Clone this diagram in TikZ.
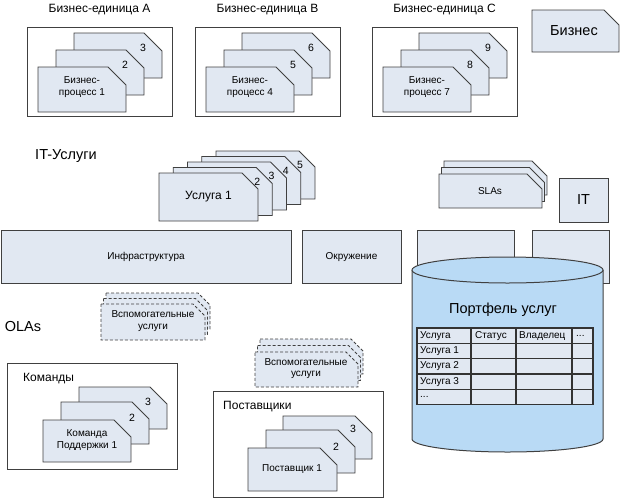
\documentclass[tikz,border=0pt]{standalone}
\usepackage{fontspec}
\setmainfont{Liberation Sans}
\definecolor{pagefill}{RGB}{225,232,242}
\definecolor{cylfill}{RGB}{185,218,245}
\definecolor{linec}{RGB}{64,64,64}
\tikzset{
  pg/.style={draw=linec, fill=pagefill, line width=0.9pt, line join=miter},
  dpg/.style={pg, dash pattern=on 3pt off 2pt},
  frame/.style={draw=linec, line width=1pt},
  cyl/.style={draw=linec, fill=cylfill, line width=1pt},
  tbl/.style={draw=linec!80!black, line width=1.3pt},
  sm/.style={font=\fontsize{10}{11.5}\selectfont, align=center, inner sep=0pt},
  num/.style={font=\fontsize{10.5}{12}\selectfont, inner sep=0pt},
  md/.style={font=\fontsize{12}{14}\selectfont, inner sep=0pt},
  lg/.style={font=\fontsize{14.5}{16}\selectfont, inner sep=0pt},
  cell/.style={font=\fontsize{10}{11}\selectfont, inner sep=0pt, anchor=west}
}
% [style] x y w h cut
\newcommand{\cutpg}[6][]{\draw[pg,#1] ({#2},{#3}) -- ({#2+#4-#6},{#3}) -- ({#2+#4},{#3+#6}) -- ({#2+#4},{#3+#5}) -- ({#2},{#3+#5}) -- cycle;}
% dx, letter, n1, n2, n3
\newcommand{\bizgroup}[5]{%
  \draw[frame] ({27+#1},27) rectangle ({172+#1},116);
  \node[md] (bu#2) at ({99.5+#1},10) {Бизнес-единица #2};
  \cutpg{74+#1}{33}{88}{45}{18}
  \node[num] (bn#5) at ({143+#1},48) {#5};
  \cutpg{56+#1}{50}{88}{45}{18}
  \node[num] (bn#4) at ({125+#1},65) {#4};
  \cutpg{38+#1}{67}{88}{45}{18}
  \node[sm] (bp#3) at ({82+#1},87) {Бизнес-\\процесс #3};
}
\begin{document}
\begin{tikzpicture}[x=1pt,y=-1pt]
\useasboundingbox (0,0) rectangle (620,498);

% ---- business units
\bizgroup{0}{A}{1}{2}{3}
\bizgroup{168}{B}{4}{5}{6}
\bizgroup{345}{C}{7}{8}{9}

% Бизнес tag
\cutpg{532}{10}{87}{42}{15}
\node[lg] (biz) at (574,31) {Бизнес};

% ---- IT services
\node[lg] (itlabel) at (66,156) {IT-Услуги};
\foreach \k in {5,4,3,2,1}{
  \cutpg{159+14.25*(\k-1)}{173-5.5*(\k-1)}{99}{48}{16}
  \ifnum\k>1
    \node[num] (un\k) at ({159+14.25*(\k-1)+84},{173-5.5*(\k-1)+14}) {\k};
  \fi
}
\node[md] (usl1) at (208.5,197) {Услуга 1};

% SLAs
\cutpg{444}{161}{103}{34}{15}
\cutpg{441.5}{167.5}{103}{34}{15}
\cutpg{439}{174}{103}{34}{15}
\node[sm] (slas) at (490,191) {SLAs};

% IT box
\draw[pg] (559,178) rectangle (608,222);
\node[lg] (it) at (583.5,200) {IT};

% ---- infrastructure row
\draw[pg] (1,230) rectangle (291,283);
\node[sm] (infra) at (146,257) {Инфраструктура};
\draw[pg] (302,230) rectangle (401,283);
\node[sm] (env) at (351.5,257) {Окружение};
\draw[pg] (417,230) rectangle (514,283);
\draw[pg] (532,230) rectangle (609,283);

% ---- cylinder
\draw[cyl] (412,270) -- (412,439) .. controls (412,446.2) and (454.8,452) .. (507.5,452) .. controls (560.2,452) and (603,446.2) .. (603,439) -- (603,270);
\draw[cyl] (507.5,270) ellipse [x radius=95.5, y radius=13];
\node[lg] (portf) at (503,310) {Портфель услуг};

% table
\fill[pagefill] (417,328) rectangle (593,404.6);
\draw[tbl] (417,328) rectangle (593,404.6);
\foreach \yy in {343.3,358.6,374,389.3}{\draw[tbl] (417,\yy) -- (593,\yy);}
\foreach \xx in {471,516,572}{\draw[tbl] (\xx,328) -- (\xx,404.6);}
\node[cell] (h1) at (420,335.6) {Услуга};
\node[cell] (h2) at (475,335.6) {Статус};
\node[cell] (h3) at (519,335.6) {Владелец};
\node[cell] (h4) at (576,335.6) {...};
\node[cell] (r1) at (420,351) {Услуга 1};
\node[cell] (r2) at (420,366.3) {Услуга 2};
\node[cell] (r3) at (420,381.6) {Услуга 3};
\node[cell] (r4) at (420,397) {...};

% ---- OLAs
\node[lg] (olas) at (23,327) {OLAs};
\cutpg[dpg]{106}{293}{104}{36}{12}
\cutpg[dpg]{103.5}{298.5}{104}{36}{12}
\cutpg[dpg]{101}{304}{104}{36}{12}
\node[sm] (aux1) at (153,321) {Вспомогательные\\услуги};

\cutpg[dpg]{260}{339}{103}{35}{12}
\cutpg[dpg]{257.5}{345.5}{103}{35}{12}
\cutpg[dpg]{255}{352}{103}{35}{12}
\node[sm] (aux2) at (306,368.5) {Вспомогательные\\услуги};

% Команды
\draw[frame] (7,363) rectangle (177,469);
\node[md, anchor=west] (teams) at (23,379) {Команды};
\cutpg{79}{387}{88}{42}{17}
\node[num] (tn3) at (148,402) {3};
\cutpg{61}{402}{88}{42}{17}
\node[num] (tn2) at (132,418) {2};
\cutpg{43}{420}{88}{42}{17}
\node[sm] (team1) at (87,440) {Команда\\Поддержки 1};

% Поставщики
\draw[frame] (213,391) rectangle (383,497);
\node[md, anchor=west] (supp) at (223,407) {Поставщики};
\cutpg{283}{416}{89}{43}{17}
\node[num] (sn3) at (353,429) {3};
\cutpg{266}{430}{89}{43}{17}
\node[num] (sn2) at (336,447) {2};
\cutpg{248}{448}{89}{43}{17}
\node[sm] (supp1) at (292,469) {Поставщик 1};
\end{tikzpicture}
\end{document}
